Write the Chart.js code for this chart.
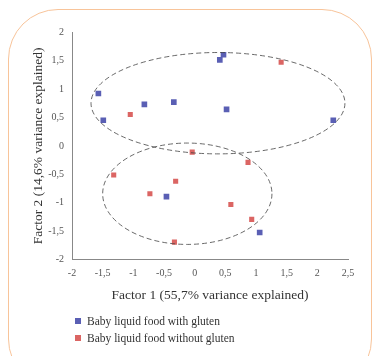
<!DOCTYPE html>
<html>
<head>
<meta charset="utf-8">
<script src="https://cdn.jsdelivr.net/npm/chart.js@4"></script>
<style>
    html, body {margin: 0; padding: 0; background: #fff;}
    .wrap {position: relative; width: 375px; height: 356px; overflow: hidden;}
    .frame {position: absolute; left: 8px; top: 9px; width: 364px; height: 380px;
        border: 1.5px solid #f8c49a; border-radius: 50px; box-sizing: border-box;}
    canvas {position: absolute; left: 0; top: 0;}
    .legend {position: absolute; left: 75px; top: 313px; font-family: "Liberation Serif", serif;
        font-size: 11.5px; color: #333; line-height: 17px;}
    .legend span {display: inline-block; width: 6px; height: 6px; margin-right: 6px; vertical-align: 1px;}
</style>
</head>
<body>
<div class="wrap">
    <div class="frame"></div>
    <canvas id="chart" width="375" height="356"></canvas>
    <div class="legend">
        <div><span style="background:#5a5fb4"></span>Baby liquid food with gluten</div>
        <div><span style="background:#db6563"></span>Baby liquid food without gluten</div>
    </div>
</div>
<script>
// factor scores
const withGlutenX = [-1.57, -1.49, -0.82, -0.34, 0.41, 0.47, 0.52, 2.26, -0.46, 1.06];
const withGlutenY = [0.92, 0.45, 0.73, 0.77, 1.51, 1.60, 0.64, 0.45, -0.89, -1.52];
const withoutGlutenX = [-1.05, 1.41, -0.04, 0.87, -1.32, -0.31, -0.73, 0.59, 0.93, -0.33];
const withoutGlutenY = [0.55, 1.47, -0.11, -0.29, -0.51, -0.62, -0.84, -1.03, -1.29, -1.69];

// group ellipses: center x, center y, radius x, radius y
const ellipseCx = [0.38, -0.12];
const ellipseCy = [0.75, -0.84];
const ellipseRx = [2.07, 1.38];
const ellipseRy = [0.89, 0.89];

const xTicks = [-2, -1.5, -1, -0.5, 0, 0.5, 1, 1.5, 2, 2.5];
const yTicks = [-2, -1.5, -1, -0.5, 0, 0.5, 1, 1.5, 2];

const toPoints = (xs, ys) => xs.map((x, i) => ({x: x, y: ys[i]}));
const fmt = v => String(v).replace('.', ',');

const ellipses = {
    id: 'ellipses',
    afterDatasetsDraw(chart) {
        const {ctx, scales: {x, y}} = chart;
        ctx.save();
        ctx.strokeStyle = '#444';
        ctx.lineWidth = 0.8;
        ctx.setLineDash([5, 3]);
        ellipseCx.forEach((cx, i) => {
            const px = x.getPixelForValue(cx);
            const py = y.getPixelForValue(ellipseCy[i]);
            const rx = x.getPixelForValue(cx + ellipseRx[i]) - px;
            const ry = py - y.getPixelForValue(ellipseCy[i] + ellipseRy[i]);
            ctx.beginPath();
            ctx.ellipse(px, py, rx, ry, 0, 0, Math.PI * 2);
            ctx.stroke();
        });
        ctx.restore();
    }
};

const ctx = document.getElementById('chart').getContext('2d');
const myChart = new Chart(ctx, {
    type: 'scatter',
    data: {
        datasets: [
            {
                label: 'Baby liquid food with gluten',
                data: toPoints(withGlutenX, withGlutenY),
                pointStyle: 'rect',
                pointRadius: 4,
                backgroundColor: '#5a5fb4',
                borderWidth: 0,
            }, {
                label: 'Baby liquid food without gluten',
                data: toPoints(withoutGlutenX, withoutGlutenY),
                pointStyle: 'rect',
                pointRadius: 3.6,
                backgroundColor: '#db6563',
                borderWidth: 0,
            }
        ]
    },
    options: {
        responsive: false,
        animation: false,
        layout: {
            padding: {left: 26, right: 27, top: 32, bottom: 48}
        },
        plugins: {
            legend: {display: false},
            tooltip: {enabled: false}
        },
        scales: {
            x: {
                type: 'linear',
                min: -2,
                max: 2.5,
                afterBuildTicks: s => { s.ticks = xTicks.map(v => ({value: v})); },
                ticks: {
                    callback: fmt,
                    color: '#555',
                    font: {family: 'Liberation Serif', size: 10},
                    padding: 4,
                    maxRotation: 0
                },
                grid: {display: false, drawOnChartArea: false, drawTicks: true, tickLength: 4, color: '#888'},
                border: {color: '#888', width: 1},
                title: {
                    display: true,
                    text: 'Factor 1 (55,7% variance explained)',
                    color: '#333',
                    font: {family: 'Liberation Serif', size: 13.5},
                    padding: {top: 4}
                }
            },
            y: {
                type: 'linear',
                min: -2,
                max: 2,
                afterBuildTicks: s => { s.ticks = yTicks.map(v => ({value: v})); },
                afterFit: s => { s.width = 46; },
                ticks: {
                    callback: fmt,
                    color: '#555',
                    font: {family: 'Liberation Serif', size: 10},
                    padding: 4
                },
                grid: {display: false, drawOnChartArea: false, drawTicks: true, tickLength: 4, color: '#888'},
                border: {color: '#888', width: 1},
                title: {
                    display: true,
                    text: 'Factor 2 (14,6% variance explained)',
                    color: '#333',
                    font: {family: 'Liberation Serif', size: 13.5},
                    padding: {bottom: 6}
                }
            }
        }
    },
    plugins: [ellipses]
});
</script>
</body>
</html>
